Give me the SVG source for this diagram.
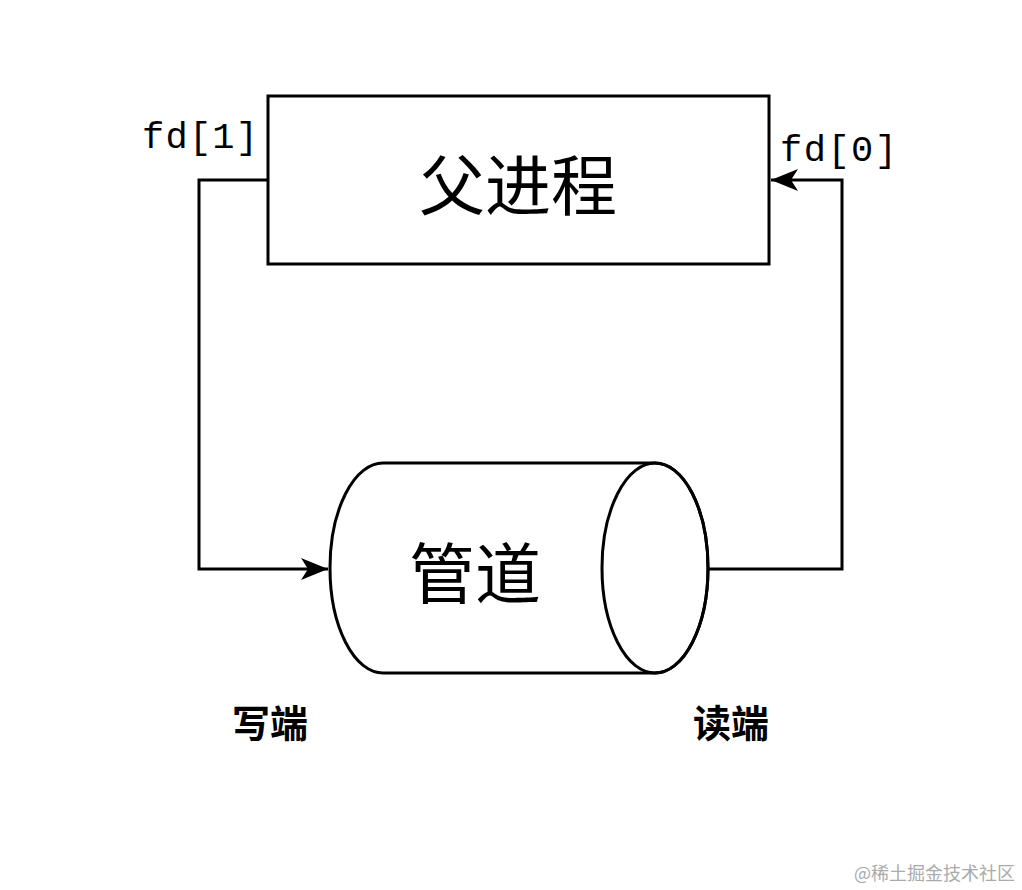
<svg xmlns="http://www.w3.org/2000/svg" width="1022" height="890" viewBox="0 0 1022 890">
<style>
.s{fill:none;stroke:#000;stroke-width:3}
.cj{font-family:"Liberation Serif","Noto Sans CJK SC",serif;fill:#000;text-anchor:middle}
.m{font-family:"Liberation Mono",monospace;font-size:37px;fill:#000}
</style>
<defs><marker id="b" markerWidth="28" markerHeight="28" refX="27" refY="14" orient="auto" markerUnits="userSpaceOnUse" viewBox="0 0 28 28"><path d="M0,3L27,14L0,25L7,14Z" fill="#000"/></marker></defs>
<rect width="1022" height="890" fill="#fff"/>
<g id="parent"><rect x="268" y="96" width="501" height="168" class="s" fill="#fff"/><text x="518" y="210" class="cj" font-size="66">父进程</text></g>
<g id="pipe"><path d="M383,463H655A53,105 0 0 1 655,673H383A53,105 0 0 1 383,463Z" class="s" fill="#fff"/><ellipse cx="655" cy="568" rx="53" ry="105" class="s"/><text x="475" y="598" class="cj" font-size="66">管道</text></g>
<g id="connectors"><path d="M268,180H199V569H328" class="s" marker-end="url(#b)"/><path d="M708,569H842V180H771" class="s" marker-end="url(#b)"/></g>
<text x="142" y="148" class="m" textLength="116">fd[1]</text>
<text x="780" y="161" class="m" textLength="117">fd[0]</text>
<text x="270" y="737" class="cj" font-size="38" font-weight="bold">写端</text>
<text x="731" y="737" class="cj" font-size="38" font-weight="bold">读端</text>
<text x="1015" y="880" font-family="Noto Sans CJK SC,sans-serif" font-size="18" fill="#aaa" text-anchor="end">@稀土掘金技术社区</text>
</svg>
